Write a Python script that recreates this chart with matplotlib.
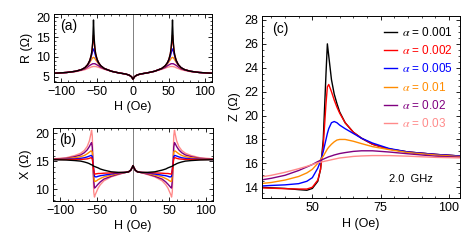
import numpy as np
import matplotlib
matplotlib.use("Agg")
import matplotlib.pyplot as plt
from matplotlib.ticker import MultipleLocator

plt.rcParams['font.family'] = ['Liberation Sans', 'DejaVu Sans']
plt.rcParams['font.size'] = 9
plt.rcParams['mathtext.fontset'] = 'stix'

# ---data--- #
labels = [r'$\alpha$ = 0.001', r'$\alpha$ = 0.002', r'$\alpha$ = 0.005',
          r'$\alpha$ = 0.01', r'$\alpha$ = 0.02', r'$\alpha$ = 0.03']
colors = ['black', '#ff0000', '#0000ff', '#ff8c00', '#800080', '#ff8a8a']

# (a) R vs H, positive half (curves are symmetric in H)
h_a = [0, 2, 5, 10, 20, 30, 40, 45, 48, 50, 52, 53, 54, 55, 56, 57, 58, 60, 63, 67, 72, 80, 92, 110]
r_black = [4.4, 5.0, 5.4, 5.7, 6.0, 6.4, 7.1, 7.8, 8.6, 9.4, 10.8, 12.2, 14.5, 19.3, 14.0, 11.8, 10.6, 9.2, 8.1, 7.3, 6.8, 6.4, 6.1, 5.9]
r_red = [4.4, 5.0, 5.4, 5.7, 6.0, 6.4, 7.1, 7.8, 8.6, 9.4, 10.8, 12.0, 13.6, 15.5, 13.5, 11.7, 10.5, 9.2, 8.1, 7.3, 6.8, 6.4, 6.1, 5.9]
r_blue = [4.4, 5.0, 5.4, 5.7, 6.0, 6.4, 7.1, 7.8, 8.5, 9.2, 10.2, 10.9, 11.6, 12.0, 11.6, 10.9, 10.2, 9.0, 8.0, 7.3, 6.8, 6.4, 6.1, 5.9]
r_orange = [4.4, 5.0, 5.4, 5.7, 6.0, 6.4, 7.1, 7.7, 8.3, 8.8, 9.3, 9.6, 9.8, 9.9, 9.8, 9.6, 9.3, 8.7, 7.9, 7.2, 6.8, 6.4, 6.1, 5.9]
r_purple = [4.4, 5.0, 5.4, 5.7, 6.0, 6.4, 7.0, 7.4, 7.8, 8.0, 8.2, 8.3, 8.3, 8.3, 8.3, 8.2, 8.1, 7.9, 7.5, 7.0, 6.7, 6.4, 6.1, 5.9]
r_pink = [4.4, 5.0, 5.4, 5.7, 6.0, 6.4, 6.9, 7.2, 7.4, 7.5, 7.6, 7.6, 7.6, 7.6, 7.6, 7.5, 7.5, 7.3, 7.1, 6.8, 6.6, 6.3, 6.1, 5.9]

# (b) X vs H, positive half
h_b = [0, 1, 3, 6, 10, 20, 30, 40, 45, 48, 50, 52, 53, 54, 55, 56, 57, 58, 60, 63, 67, 72, 80, 92, 110]
x_black = [14.2, 13.9, 13.4, 13.1, 13.0, 13.0, 13.1, 13.4, 13.6, 13.8, 13.9, 14.0, 14.05, 14.1, 14.2, 14.3, 14.35, 14.4, 14.55, 14.7, 14.85, 15.0, 15.1, 15.2, 15.25]
x_red = [14.2, 13.9, 13.4, 13.1, 13.0, 12.95, 12.9, 12.85, 12.8, 12.8, 12.75, 12.7, 12.7, 13.5, 14.4, 15.4, 15.6, 15.6, 15.5, 15.4, 15.35, 15.3, 15.3, 15.3, 15.3]
x_blue = [14.2, 13.9, 13.4, 13.1, 13.0, 12.9, 12.7, 12.5, 12.4, 12.3, 12.2, 12.2, 12.3, 13.5, 14.5, 15.8, 16.0, 16.0, 15.9, 15.75, 15.6, 15.5, 15.4, 15.35, 15.3]
x_orange = [14.2, 13.9, 13.4, 13.1, 13.0, 12.8, 12.5, 12.2, 11.9, 11.7, 11.5, 11.4, 11.4, 12.5, 14.2, 16.6, 16.8, 16.8, 16.6, 16.3, 16.0, 15.8, 15.6, 15.45, 15.35]
x_purple = [14.2, 13.9, 13.4, 13.1, 13.0, 12.7, 12.3, 11.8, 11.3, 10.9, 10.6, 10.3, 10.2, 11.5, 14.2, 17.5, 18.3, 18.1, 17.6, 17.0, 16.5, 16.1, 15.8, 15.5, 15.35]
x_pink = [14.2, 13.9, 13.4, 13.1, 13.0, 12.6, 12.2, 11.5, 10.8, 10.2, 9.6, 9.0, 8.6, 9.5, 14.2, 19.5, 20.5, 19.8, 18.6, 17.6, 16.9, 16.4, 16.0, 15.6, 15.4]

# (c) Z vs H at 2.0 GHz
h_c = [31, 35, 40, 45, 48, 50, 52, 53, 54, 55, 55.5, 56, 57, 58, 59, 60, 62, 65, 68, 72, 78, 85, 95, 105]
z_black = [14.0, 13.95, 13.9, 13.8, 13.75, 13.9, 14.5, 15.5, 18.0, 23.5, 26.0, 25.0, 23.0, 21.8, 21.0, 20.3, 19.4, 18.6, 18.1, 17.6, 17.2, 16.95, 16.75, 16.6]
z_red = [13.95, 13.92, 13.88, 13.85, 13.85, 14.0, 14.6, 15.5, 17.5, 21.0, 22.4, 22.6, 22.0, 21.3, 20.7, 20.2, 19.4, 18.6, 18.1, 17.6, 17.2, 16.95, 16.75, 16.6]
z_blue = [14.1, 14.15, 14.2, 14.3, 14.5, 14.8, 15.6, 16.2, 17.0, 18.0, 18.5, 18.9, 19.4, 19.5, 19.4, 19.2, 18.9, 18.5, 18.1, 17.7, 17.25, 16.95, 16.75, 16.6]
z_orange = [14.3, 14.4, 14.6, 14.9, 15.2, 15.5, 16.0, 16.3, 16.6, 17.0, 17.2, 17.35, 17.6, 17.8, 17.95, 18.0, 18.0, 17.85, 17.65, 17.4, 17.15, 16.9, 16.7, 16.55]
z_purple = [14.6, 14.75, 15.0, 15.4, 15.7, 15.9, 16.15, 16.25, 16.35, 16.45, 16.5, 16.55, 16.62, 16.7, 16.76, 16.82, 16.9, 17.0, 17.05, 17.05, 16.95, 16.8, 16.6, 16.5]
z_pink = [14.85, 15.0, 15.25, 15.55, 15.75, 15.9, 16.05, 16.1, 16.15, 16.2, 16.22, 16.25, 16.3, 16.35, 16.4, 16.45, 16.5, 16.58, 16.62, 16.65, 16.65, 16.6, 16.5, 16.45]


def mirror(h, y):
    # symmetric curve: build the negative-H half from the positive half
    h = np.asarray(h, float)
    y = np.asarray(y, float)
    return np.concatenate([-h[::-1], h[1:]]), np.concatenate([y[::-1], y[1:]])


def style_axes(ax):
    ax.tick_params(which='both', direction='in', top=True, right=True, labelsize=9, pad=3)
    ax.tick_params(which='major', length=3, width=0.6)
    ax.tick_params(which='minor', length=1.6, width=0.5)
    for s in ax.spines.values():
        s.set_linewidth(0.7)


fig = plt.figure(figsize=(4.63, 2.40), dpi=100)

# ---panel (a)--- #
ax_a = fig.add_axes([0.1166, 0.6583, 0.3413, 0.2833])
ax_a.axvline(0, color='gray', lw=0.7)
for y, c in zip([r_pink, r_purple, r_orange, r_blue, r_red, r_black], colors[::-1]):
    hx, yy = mirror(h_a, y)
    ax_a.plot(hx, yy, color=c, lw=1.0)
ax_a.set_xlim(-110, 110)
ax_a.set_ylim(3.7, 20.8)
ax_a.xaxis.set_major_locator(MultipleLocator(50))
ax_a.xaxis.set_minor_locator(MultipleLocator(10))
ax_a.yaxis.set_major_locator(MultipleLocator(5))
ax_a.yaxis.set_minor_locator(MultipleLocator(1))
ax_a.set_xlabel('H (Oe)', labelpad=2)
ax_a.set_ylabel('R (\u03a9)', labelpad=2)
ax_a.text(0.04, 0.93, '(a)', transform=ax_a.transAxes, va='top', fontsize=10)
style_axes(ax_a)

# ---panel (b)--- #
ax_b = fig.add_axes([0.1145, 0.1625, 0.3456, 0.3042])
ax_b.axvline(0, color='gray', lw=0.7)
for y, c in zip([x_pink, x_purple, x_orange, x_blue, x_red, x_black], colors[::-1]):
    hx, yy = mirror(h_b, y)
    ax_b.plot(hx, yy, color=c, lw=1.0)
ax_b.set_xlim(-110, 110)
ax_b.set_ylim(7.9, 20.9)
ax_b.xaxis.set_major_locator(MultipleLocator(50))
ax_b.xaxis.set_minor_locator(MultipleLocator(10))
ax_b.yaxis.set_major_locator(MultipleLocator(5))
ax_b.yaxis.set_minor_locator(MultipleLocator(1))
ax_b.set_xlabel('H (Oe)', labelpad=2)
ax_b.set_ylabel('X (\u03a9)', labelpad=2)
ax_b.text(0.04, 0.93, '(b)', transform=ax_b.transAxes, va='top', fontsize=10)
style_axes(ax_b)

# ---panel (c)--- #
ax_c = fig.add_axes([0.5659, 0.175, 0.4276, 0.7583])
zs = [z_black, z_red, z_blue, z_orange, z_purple, z_pink]
lines = []
for z, c, lab in zip(zs, colors, labels):
    ln, = ax_c.plot(h_c, z, color=c, lw=1.0, label=lab)
    lines.append(ln)
ax_c.set_xlim(31.6, 104)
ax_c.set_ylim(13.1, 28.33)
ax_c.xaxis.set_major_locator(MultipleLocator(25))
ax_c.xaxis.set_minor_locator(MultipleLocator(5))
ax_c.yaxis.set_major_locator(MultipleLocator(2))
ax_c.yaxis.set_minor_locator(MultipleLocator(0.5))
ax_c.set_xlabel('H (Oe)', labelpad=3)
ax_c.set_ylabel('Z (\u03a9)', labelpad=2)
ax_c.text(0.05, 0.965, '(c)', transform=ax_c.transAxes, va='top', fontsize=10)
ax_c.text(78, 14.7, '2.0  GHz', fontsize=8, va='center')
ax_c.legend(handles=lines, loc='upper right', frameon=False, fontsize=8.5,
            labelcolor='linecolor', handlelength=1.1, handletextpad=0.4,
            labelspacing=0.45, borderaxespad=0.2, bbox_to_anchor=(1.0, 0.985))
style_axes(ax_c)

fig.savefig('out.png', dpi=100)
